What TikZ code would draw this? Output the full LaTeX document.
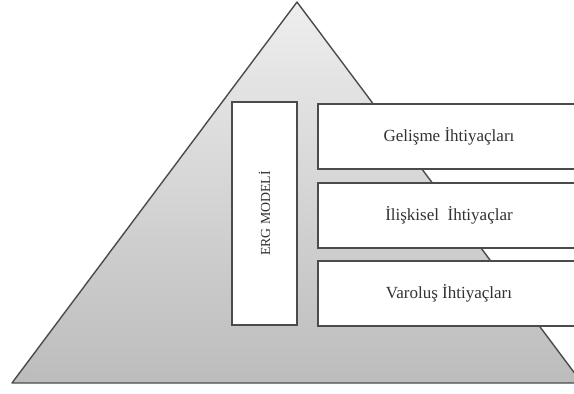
\documentclass[tikz,border=0pt]{standalone}
\usepackage{fontspec}
\setmainfont{Liberation Serif}
\usepackage{tikz}
\definecolor{pyrtop}{RGB}{238,238,238}
\definecolor{pyrbot}{RGB}{188,188,188}
\definecolor{edgegray}{RGB}{75,75,75}
\definecolor{textgray}{RGB}{50,50,50}
\tikzset{
  pyramid/.style={draw=edgegray, line width=1.4pt, line join=round, top color=pyrtop, bottom color=pyrbot},
  ergbox/.style={draw=edgegray, line width=1.3pt, fill=white, rotate=90, minimum width=223pt, minimum height=65pt, text=textgray, font=\fontsize{13.8}{16}\selectfont},
  needbox/.style={draw=edgegray, line width=1.3pt, fill=white, minimum width=262pt, minimum height=65pt, text=textgray, font=\fontsize{17}{20}\selectfont}
}

\begin{document}
\begin{tikzpicture}[x=1pt, y=-1pt]
  \useasboundingbox (0,0) rectangle (574,394);
  \clip (0,0) rectangle (574,394);
  \path[pyramid] (297,2) -- (582,383) -- (12,383) -- cycle;
  \node[ergbox] (erg) at (264.5,213.5) {ERG MODELİ};
  \node[needbox] (gel) at (449,136.5) {Gelişme İhtiyaçları};
  \node[needbox] (ilis) at (449,215.5) {İlişkisel\ \ İhtiyaçlar};
  \node[needbox] (var) at (449,293.5) {Varoluş İhtiyaçları};
\end{tikzpicture}
\end{document}
